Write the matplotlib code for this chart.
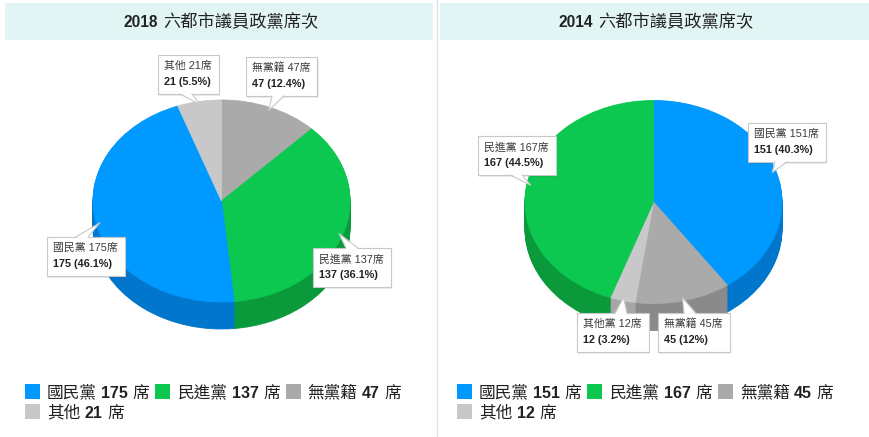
import numpy as np
import matplotlib
matplotlib.use('Agg')
import matplotlib.pyplot as plt
from matplotlib.transforms import Affine2D
from matplotlib.patches import Rectangle, Polygon

FAM = ['Liberation Sans', 'Noto Sans CJK TC', 'DejaVu Sans']
plt.rcParams['font.family'] = FAM

# ---------------- data ----------------
years = ['2018', '2014']
title_rest = '六都市議員政黨席次'
parties = ['國民黨', '民進黨', '無黨籍', '其他']
seats_2018 = [175, 137, 47, 21]
seats_2014 = [151, 167, 45, 12]
slice_names_2018 = ['國民黨', '民進黨', '無黨籍', '其他']
slice_names_2014 = ['國民黨', '民進黨', '無黨籍', '其他黨']
order_2018 = [2, 1, 0, 3]   # clockwise from 12 o'clock
order_2014 = [0, 2, 3, 1]
unit = '席'

top_colors = ['#0099ff', '#0cc850', '#aaaaaa', '#c8c8c8']
side_colors = ['#0077cc', '#0a9a3c', '#8a8a8a', '#a6a6a6']

fig = plt.figure(figsize=(8.7, 4.37), dpi=100)
ax = fig.add_axes([0, 0, 1, 1])


def draw_pie(vals, order, cx, cy, rx, ry, depth):
    v = [vals[i] for i in order]
    top = [top_colors[i] for i in order]
    side = [side_colors[i] for i in order]
    for k in range(depth, 0, -1):
        w, _ = ax.pie(v, colors=side, startangle=90, counterclock=False,
                      wedgeprops=dict(linewidth=0.6))
        tr = Affine2D().scale(rx, -ry).translate(cx, cy + k) + ax.transData
        for p in w:
            p.set_transform(tr)
            p.set_edgecolor(p.get_facecolor())
    w, _ = ax.pie(v, colors=top, startangle=90, counterclock=False,
                  wedgeprops=dict(linewidth=0.6))
    tr = Affine2D().scale(rx, -ry).translate(cx, cy) + ax.transData
    for p in w:
        p.set_transform(tr)
        p.set_edgecolor(p.get_facecolor())


def tip_point(vals, order, idx, cx, cy, rx, ry):
    v = [vals[i] for i in order]
    tot = float(sum(v))
    pos = order.index(idx)
    cum = sum(v[:pos]) + v[pos] / 2.0
    th = 2 * np.pi * cum / tot
    return (cx + 0.97 * rx * np.sin(th), cy - 0.97 * ry * np.cos(th))


pies = [
    dict(vals=seats_2018, order=order_2018, names=slice_names_2018,
         cx=221.5, cy=201, rx=128.5, ry=101, depth=27),
    dict(vals=seats_2014, order=order_2014, names=slice_names_2014,
         cx=653.5, cy=202, rx=128.5, ry=101.5, depth=27),
]

for P in pies:
    draw_pie(P['vals'], P['order'], P['cx'], P['cy'], P['rx'], P['ry'], P['depth'])

ax.set_aspect('auto')
ax.set_xlim(0, 870)
ax.set_ylim(437, 0)
ax.axis('off')

r = fig.canvas.get_renderer()

# ---------------- title bands ----------------
ax.add_patch(Rectangle((5, 3), 428, 37, fc='#e2f5f5', lw=0, zorder=0))
ax.add_patch(Rectangle((440, 3), 430, 37, fc='#e2f5f5', lw=0, zorder=0))
ax.plot([437, 437], [0, 437], color='#e3e3e3', lw=1, zorder=0)


def run_text(x, y, parts, anchor='left', color='#222222'):
    objs = []
    cur = x
    for s, sz, wt, gap in parts:
        t = ax.text(cur, y, s, fontsize=sz, fontweight=wt, color=color,
                    va='baseline', ha='left', zorder=20)
        cur += t.get_window_extent(r).width + gap
        objs.append(t)
    total = cur - x
    if anchor == 'center':
        for t in objs:
            px, py = t.get_position()
            t.set_x(px - total / 2.0)
    return cur


run_text(221, 27, [(years[0], 11.2, 'bold', 5), (title_rest, 12.4, 'normal', 0)], anchor='center')
run_text(656, 27, [(years[1], 11.2, 'bold', 5), (title_rest, 12.4, 'normal', 0)], anchor='center')


# ---------------- callouts ----------------
def fmt_pct(v, tot):
    s = '%.1f' % (100.0 * v / tot)
    s = s.rstrip('0').rstrip('.')
    return s + '%'


def callout(x0, y0, line1, line2, side, bx, tip):
    t1 = ax.text(x0 + 6, y0 + 14.3, line1, fontsize=7.8, color='#3a3a3a',
                 va='baseline', ha='left', zorder=12)
    t2 = ax.text(x0 + 6, y0 + 29.8, line2, fontsize=7.8, fontweight='bold',
                 color='#222222', va='baseline', ha='left', zorder=12)
    w = max(t1.get_window_extent(r).width, t2.get_window_extent(r).width) + 13
    h = 39
    ax.add_patch(Rectangle((x0 + 1.5, y0 + 1.5), w, h, fc='black', alpha=0.07,
                           lw=0, zorder=9))
    ax.add_patch(Rectangle((x0, y0), w, h, fc='white', ec='#c8c8c8', lw=0.8,
                           zorder=10))
    if side == 'bottom':
        by = y0 + h
        inner = by - 1.2
    else:
        by = y0
        inner = by + 1.2
    ax.add_patch(Polygon([(bx - 6, inner), (bx + 6, inner), tip], closed=True,
                         fc='white', lw=0, zorder=10.5))
    ax.plot([bx - 6, tip[0], bx + 6], [by, tip[1], by], color='#c8c8c8',
            lw=0.8, zorder=10.6)


callout_layout = [
    # chart index, party index, box x0, box y0, side, pointer base x
    (0, 0, 47, 237, 'top', 82),
    (0, 1, 313, 248, 'top', 352),
    (0, 2, 246, 57, 'bottom', 278),
    (0, 3, 158, 55, 'bottom', 186),
    (1, 0, 748, 123, 'bottom', 781),
    (1, 1, 478, 136, 'bottom', 516),
    (1, 2, 658, 313, 'top', 690),
    (1, 3, 577, 313, 'top', 621),
]

for ci, pi, x0, y0, side, bx in callout_layout:
    P = pies[ci]
    v = P['vals'][pi]
    tot = sum(P['vals'])
    line1 = '%s %d%s' % (P['names'][pi], v, unit)
    line2 = '%d (%s)' % (v, fmt_pct(v, tot))
    tip = tip_point(P['vals'], P['order'], pi, P['cx'], P['cy'], P['rx'], P['ry'])
    callout(x0, y0, line1, line2, side, bx, tip)


# ---------------- legends ----------------
def legend(x_start, vals):
    rows_y = [392, 412]
    x = x_start
    for i, name in enumerate(parties):
        row = 0 if i < 3 else 1
        if i == 3:
            x = x_start
        yc = rows_y[row]
        ax.add_patch(Rectangle((x, yc - 8), 15, 15, fc=top_colors[i], lw=0, zorder=5))
        end = run_text(x + 22, yc + 5.8,
                       [(name, 12, 'normal', 4.5), (str(vals[i]), 11.5, 'bold', 4.5),
                        (unit, 12, 'normal', 0)])
        x = end + 6


legend(25, seats_2018)
legend(457, seats_2014)

fig.savefig('out.png', dpi=100)
